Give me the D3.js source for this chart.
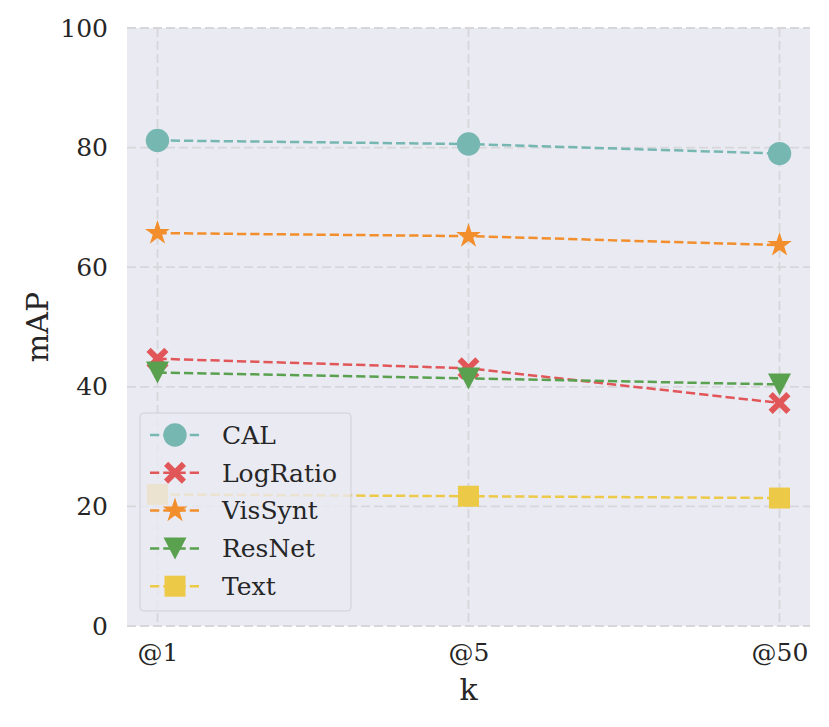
<!DOCTYPE html>
<html>
<head>
<meta charset="utf-8">
<script src="https://cdn.jsdelivr.net/npm/d3@7"></script>
<style>
  body { margin: 0; background: #fff; }
  text { font-family: "DejaVu Serif", serif; fill: #262626; }
</style>
</head>
<body>
<div id="chart"></div>
<script>
// Data
const kLabels = ["@1", "@5", "@50"];
const yTicks = [0, 20, 40, 60, 80, 100];
const seriesNames = ["CAL", "LogRatio", "VisSynt", "ResNet", "Text"];
const calValues = [81.2, 80.6, 79.0];
const logRatioValues = [44.7, 43.1, 37.3];
const visSyntValues = [65.7, 65.2, 63.7];
const resNetValues = [42.4, 41.4, 40.4];
const textValues = [22.0, 21.7, 21.4];
const seriesColors = ["#76b7b2", "#e15759", "#f28e2b", "#59a14f", "#edc948"];
const seriesMarkers = ["circle", "x", "star", "triangle", "square"];

const allValues = [calValues, logRatioValues, visSyntValues, resNetValues, textValues];

// Build marker path for a given shape
function markerPath(shape) {
    if (shape === "circle") return d3.symbol().type(d3.symbolCircle).size(430)();
    if (shape === "star") return d3.symbol().type(d3.symbolStar).size(190)();
    if (shape === "square") {
        const h = 10.5;
        return `M${-h},${-h}L${h},${-h}L${h},${h}L${-h},${h}Z`;
    }
    if (shape === "triangle") {
        return "M-11.5,-11L11.5,-11L0,11Z";
    }
    // filled X
    const e = 11, w = 4.2;
    const pts = [
        [0, -w], [e - w, -e], [e, -e + w], [w, 0], [e, e - w], [e - w, e],
        [0, w], [-e + w, e], [-e, e - w], [-w, 0], [-e, -e + w], [-e + w, -e]
    ];
    return "M" + pts.map(p => p.join(",")).join("L") + "Z";
}

function createSVG() {
    const width = 829;
    const height = 727;
    const marginTop = 28;
    const marginBottom = 101;
    const marginLeft = 127;
    const marginRight = 19;

    const svg = d3.create("svg").attr("width", width).attr("height", height);
    svg.append("rect").attr("width", width).attr("height", height).attr("fill", "#fff");

    const x = d3.scalePoint()
        .domain(kLabels)
        .range([marginLeft, width - marginRight])
        .padding(0.098);
    const y = d3.scaleLinear()
        .domain([0, 100])
        .range([height - marginBottom, marginTop]);

    // Plot background
    svg.append("rect")
        .attr("x", marginLeft)
        .attr("y", marginTop)
        .attr("width", width - marginLeft - marginRight)
        .attr("height", height - marginTop - marginBottom)
        .attr("fill", "#eaeaf2");

    return {svg, x, y, marginLeft, marginRight, marginTop, marginBottom, width, height};
}

function plotAxes(ctx) {
    const {svg, x, y, marginLeft, marginRight, width, height, marginBottom} = ctx;

    // Grid lines
    const grid = svg.append("g")
        .attr("stroke", "#d6d6db")
        .attr("stroke-width", 1.8)
        .attr("stroke-dasharray", "9,4");
    grid.selectAll(".hgrid")
        .data(yTicks)
        .enter()
        .append("line")
        .attr("x1", marginLeft)
        .attr("x2", width - marginRight)
        .attr("y1", d => y(d))
        .attr("y2", d => y(d));
    grid.selectAll(".vgrid")
        .data(kLabels)
        .enter()
        .append("line")
        .attr("x1", d => x(d))
        .attr("x2", d => x(d))
        .attr("y1", y(100))
        .attr("y2", y(0));

    // Y axis
    const yAxis = d3.axisLeft(y).tickValues(yTicks).tickSize(0).tickPadding(19);
    const yg = svg.append("g")
        .attr("transform", `translate(${marginLeft},0)`)
        .call(yAxis);
    yg.select(".domain").remove();
    yg.selectAll("text").attr("font-size", 25).attr("fill", "#262626")
        .attr("font-family", "DejaVu Serif");

    // X axis
    const xAxis = d3.axisBottom(x).tickSize(0).tickPadding(17);
    const xg = svg.append("g")
        .attr("transform", `translate(0,${height - marginBottom})`)
        .call(xAxis);
    xg.select(".domain").remove();
    xg.selectAll("text").attr("font-size", 25).attr("fill", "#262626")
        .attr("font-family", "DejaVu Serif");

    // Axis labels
    svg.append("text")
        .attr("x", (marginLeft + width - marginRight) / 2)
        .attr("y", 700)
        .attr("text-anchor", "middle")
        .attr("font-size", 30)
        .text("k");
    svg.append("text")
        .attr("transform", `translate(48,${y(50)}) rotate(-90)`)
        .attr("text-anchor", "middle")
        .attr("font-size", 30)
        .text("mAP");
}

function plotSeries(ctx) {
    const {svg, x, y} = ctx;
    const line = d3.line()
        .x((d, i) => x(kLabels[i]))
        .y(d => y(d));

    allValues.forEach((values, s) => {
        const g = svg.append("g");
        g.append("path")
            .datum(values)
            .attr("d", line)
            .attr("fill", "none")
            .attr("stroke", seriesColors[s])
            .attr("stroke-width", 2.5)
            .attr("stroke-dasharray", "9.25,4");
        g.selectAll("path.marker")
            .data(values)
            .enter()
            .append("path")
            .attr("class", "marker")
            .attr("d", markerPath(seriesMarkers[s]))
            .attr("transform", (d, i) => `translate(${x(kLabels[i])},${y(d)})`)
            .attr("fill", seriesColors[s]);
    });
}

function plotLegend(ctx) {
    const {svg} = ctx;
    const lg = svg.append("g").attr("transform", "translate(140,413)");
    lg.append("rect")
        .attr("width", 211)
        .attr("height", 198)
        .attr("rx", 4)
        .attr("fill", "#eaeaf2")
        .attr("fill-opacity", 0.8)
        .attr("stroke", "#cfcfd4")
        .attr("stroke-width", 1);

    seriesNames.forEach((name, s) => {
        const cy = 22 + s * 37.8;
        lg.append("line")
            .attr("x1", 10).attr("x2", 60)
            .attr("y1", cy).attr("y2", cy)
            .attr("stroke", seriesColors[s])
            .attr("stroke-width", 2.5)
            .attr("stroke-dasharray", "9.25,4");
        lg.append("path")
            .attr("d", markerPath(seriesMarkers[s]))
            .attr("transform", `translate(35,${cy})`)
            .attr("fill", seriesColors[s]);
        lg.append("text")
            .attr("x", 82)
            .attr("y", cy)
            .attr("dy", "0.35em")
            .attr("font-size", 25)
            .text(name);
    });
}

function main() {
    const ctx = createSVG();
    plotAxes(ctx);
    plotSeries(ctx);
    plotLegend(ctx);
    document.getElementById("chart").appendChild(ctx.svg.node());
}

main();
</script>
</body>
</html>
